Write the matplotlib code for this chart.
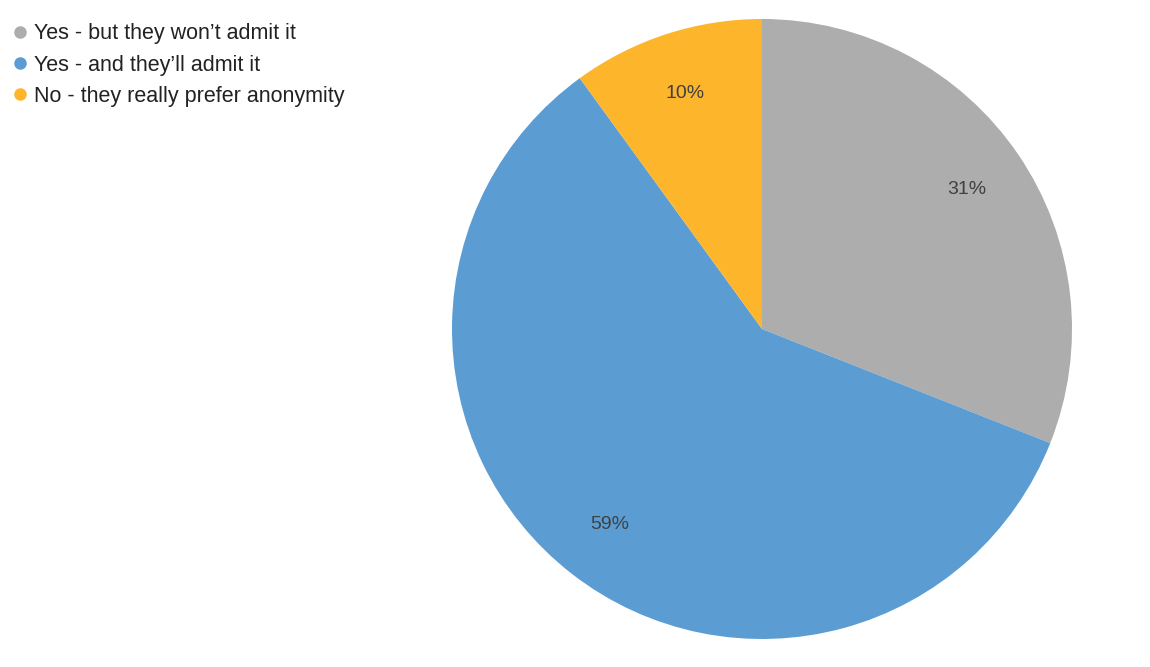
import matplotlib.pyplot as plt
from matplotlib.lines import Line2D

plt.rcParams['font.family'] = ['Liberation Sans', 'DejaVu Sans']

labels = ['Yes - but they won\u2019t admit it', 'Yes - and they\u2019ll admit it', 'No - they really prefer anonymity']
values = [31, 59, 10]
colors = ['#adadad', '#5b9dd3', '#fdb52b']

W, H = 1150, 667
fig = plt.figure(figsize=(W / 100, H / 100), dpi=100)

# pie centre (762, 329) px, radius 310 px
cx, cy, r = 762, 329, 310
ax = fig.add_axes([(cx - r) / W, (H - cy - r) / H, 2 * r / W, 2 * r / H])
wedges, texts, autotexts = ax.pie(values, colors=colors, startangle=90, counterclock=False,
                                  autopct='%1.0f%%', pctdistance=0.8,
                                  wedgeprops=dict(linewidth=0))
for t in autotexts:
    t.set_color('#404040')
    t.set_fontsize(14)
ax.set_xlim(-1, 1)
ax.set_ylim(-1, 1)
ax.set_aspect('equal')

handles = [Line2D([], [], marker='o', linestyle='', markersize=8, color=c) for c in colors]
leg = fig.legend(handles, labels, loc='upper left', bbox_to_anchor=(-3 / W, 1 - 6 / H),
                 frameon=False, fontsize=15.5, handlelength=0.5, handletextpad=0.4,
                 labelspacing=0.48, borderpad=0.3)
for t in leg.get_texts():
    t.set_color('#222222')

fig.savefig('out.png', dpi=100)
